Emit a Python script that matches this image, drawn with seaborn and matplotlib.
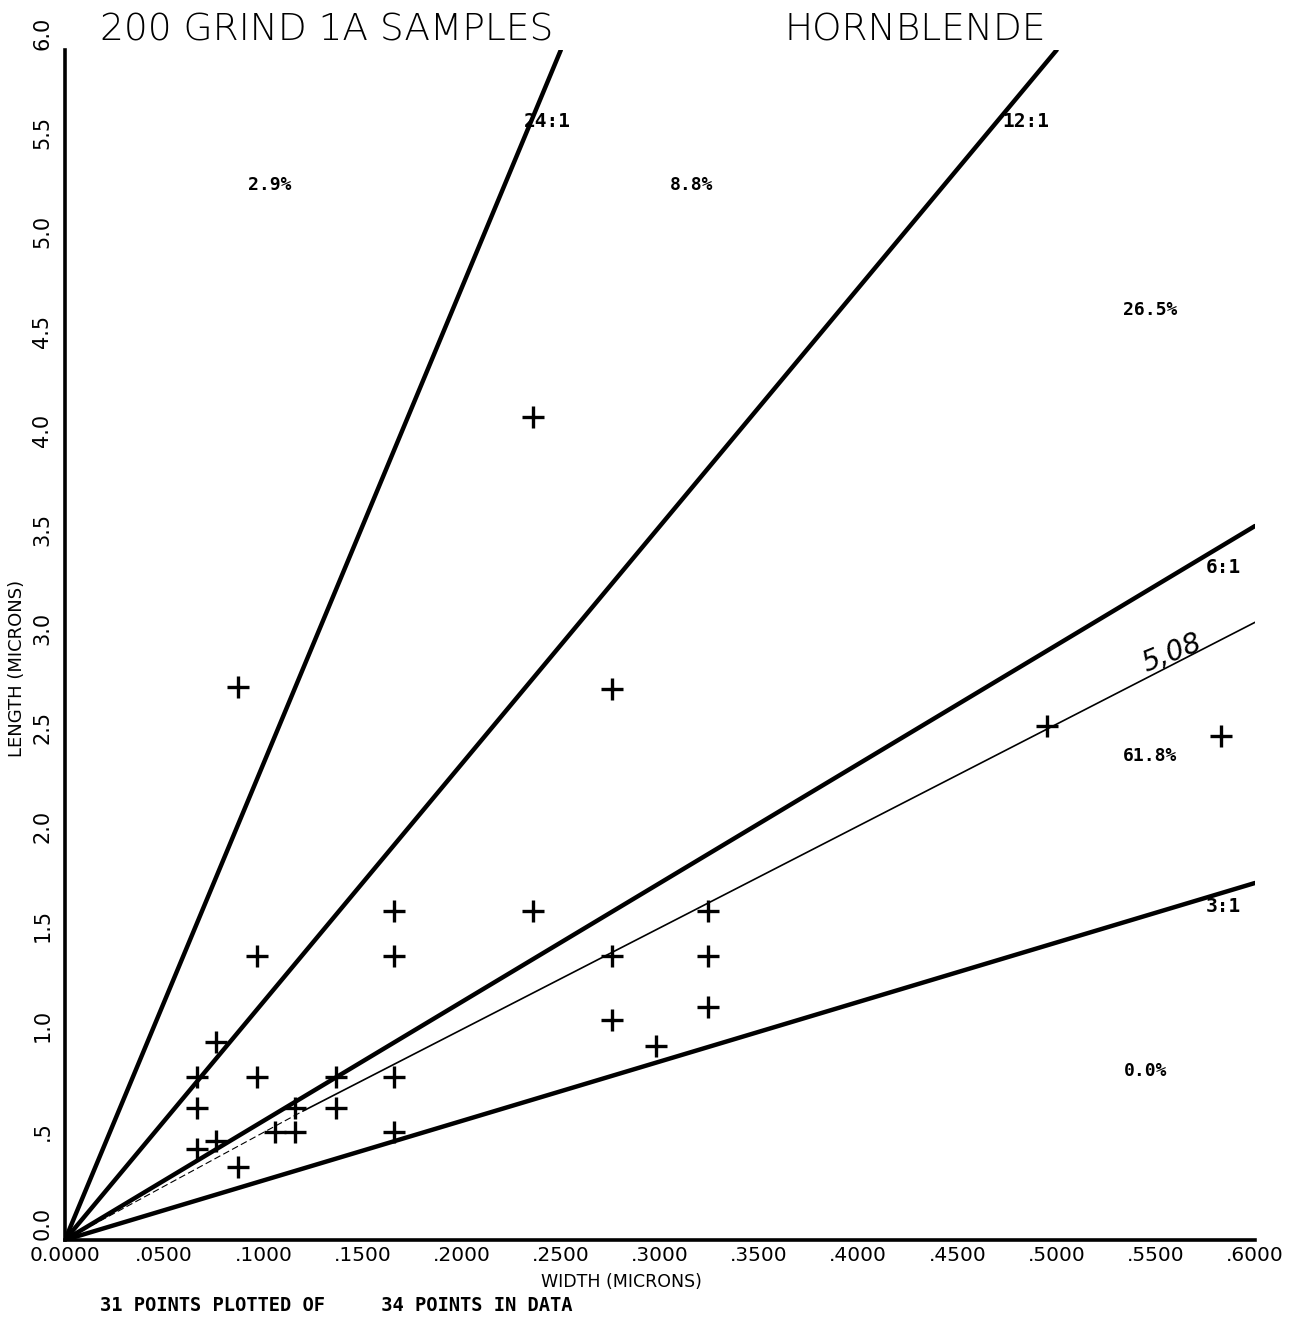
import matplotlib
matplotlib.use("Agg")
import matplotlib.pyplot as plt
import seaborn as sns
import pandas as pd
import numpy as np

sns.set_theme(style="white")
plt.rcParams['font.family'] = ['DejaVu Sans']
plt.rcParams['text.color'] = 'black'
plt.rcParams['xtick.color'] = 'black'
plt.rcParams['ytick.color'] = 'black'
plt.rcParams['axes.labelcolor'] = 'black'

# ---- data ----
width_pts = [0.087, 0.236, 0.276, 0.495, 0.583,
             0.097, 0.166, 0.166, 0.236, 0.324, 0.276, 0.324, 0.324, 0.276, 0.298,
             0.076, 0.0665, 0.097, 0.1365, 0.166,
             0.0665, 0.116, 0.1365,
             0.076, 0.0665, 0.106, 0.116, 0.166, 0.087]
length_pts = [2.79, 4.15, 2.78, 2.59, 2.54,
              1.43, 1.66, 1.43, 1.66, 1.66, 1.43, 1.43, 1.175, 1.11, 0.98,
              1.00, 0.82, 0.82, 0.82, 0.82,
              0.666, 0.666, 0.666,
              0.50, 0.46, 0.545, 0.545, 0.545, 0.37]

ratio_labels = ["24:1", "12:1", "6:1", "3:1"]
ratio_values = [24, 12, 6, 3]
ratio_x_end = [0.25, 0.50, 0.60, 0.60]
ratio_label_x = [0.2315, 0.4725, 0.575, 0.575]
ratio_label_y = [5.64, 5.64, 3.39, 1.68]

pct_labels = ["2.9%", "8.8%", "26.5%", "61.8%", "0.0%"]
pct_x = [0.103, 0.316, 0.547, 0.547, 0.545]
pct_y = [5.32, 5.32, 4.69, 2.44, 0.85]

fit_label = "5,08"
fit_x = [0.0, 0.12, 0.605]
fit_y = [0.0, 0.65, 3.14]

x_ticks = [0.0, 0.05, 0.10, 0.15, 0.20, 0.25, 0.30, 0.35, 0.40, 0.45, 0.50, 0.55, 0.60]
x_tick_labels = ["0.0000", ".0500", ".1000", ".1500", ".2000", ".2500", ".3000",
                 ".3500", ".4000", ".4500", ".5000", ".5500", ".6000"]
y_ticks = [0.0, 0.5, 1.0, 1.5, 2.0, 2.5, 3.0, 3.5, 4.0, 4.5, 5.0, 5.5, 6.0]
y_tick_labels = ["0.0", ".5", "1.0", "1.5", "2.0", "2.5", "3.0", "3.5", "4.0",
                 "4.5", "5.0", "5.5", "6.0"]

# ---- figure ----
fig = plt.figure(figsize=(12.97, 13.17), dpi=100)
ax = fig.add_axes([0.0501, 0.0585, 0.9175, 0.9035])

# ratio rays
for lab, r, xe in zip(ratio_labels, ratio_values, ratio_x_end):
    df = pd.DataFrame({"w": [0.0, xe], "l": [0.0, r * xe]})
    sns.lineplot(data=df, x="w", y="l", ax=ax, color="black", lw=3.2,
                 estimator=None, sort=False)

# fitted line
df_fit_a = pd.DataFrame({"w": fit_x[:2], "l": fit_y[:2]})
df_fit_b = pd.DataFrame({"w": fit_x[1:], "l": fit_y[1:]})
sns.lineplot(data=df_fit_a, x="w", y="l", ax=ax, color="black", lw=0.8,
             linestyle=(0, (6, 3)), estimator=None, sort=False)
sns.lineplot(data=df_fit_b, x="w", y="l", ax=ax, color="black", lw=1.2,
             estimator=None, sort=False)

# points
pts = pd.DataFrame({"w": width_pts, "l": length_pts})
sns.scatterplot(data=pts, x="w", y="l", ax=ax, marker="+", s=240,
                color="black", linewidth=2.4, zorder=5)

# labels on rays
for lab, lx, ly in zip(ratio_labels, ratio_label_x, ratio_label_y):
    ax.text(lx, ly, lab, fontsize=14, fontweight="bold", ha="left", va="center",
            family="DejaVu Sans Mono")
for lab, px, py in zip(pct_labels, pct_x, pct_y):
    ax.text(px, py, lab, fontsize=13, fontweight="bold", ha="center", va="center",
            family="DejaVu Sans Mono")
ax.text(0.558, 2.96, fit_label, fontsize=20, fontstyle="italic", rotation=22,
        ha="center", va="center", fontweight="light")

ax.set_xlim(0, 0.6)
ax.set_ylim(0, 6.0)
ax.set_xticks(x_ticks)
ax.set_xticklabels(x_tick_labels, fontsize=14.5)
ax.set_yticks(y_ticks)
ax.set_yticklabels(y_tick_labels, fontsize=15, rotation=90, va="bottom")
ax.tick_params(axis="x", direction="in", length=9, width=1.8, pad=4)
ax.tick_params(axis="y", direction="out", length=7, width=1.8, pad=2)

for s in ["top", "right"]:
    ax.spines[s].set_visible(False)
for s in ["left", "bottom"]:
    ax.spines[s].set_color("black")
    ax.spines[s].set_linewidth(2.6)

ax.set_xlabel("WIDTH (MICRONS)", fontsize=12.5)
ax.set_ylabel("LENGTH (MICRONS)", fontsize=13)
ax.xaxis.set_label_coords(0.468, -0.028)
ax.yaxis.set_label_coords(-0.033, 0.48)

fig.text(0.077, 0.977, "200 GRIND 1A SAMPLES", fontsize=27, ha="left", va="center",
         fontweight="light")
fig.text(0.605, 0.977, "HORNBLENDE", fontsize=27, ha="left", va="center",
         fontweight="light")
fig.text(0.077, 0.009, "31 POINTS PLOTTED OF     34 POINTS IN DATA", fontsize=13.5,
         ha="left", va="center", family="DejaVu Sans Mono", fontweight="bold")

fig.savefig("out.png", dpi=100, facecolor="white")
